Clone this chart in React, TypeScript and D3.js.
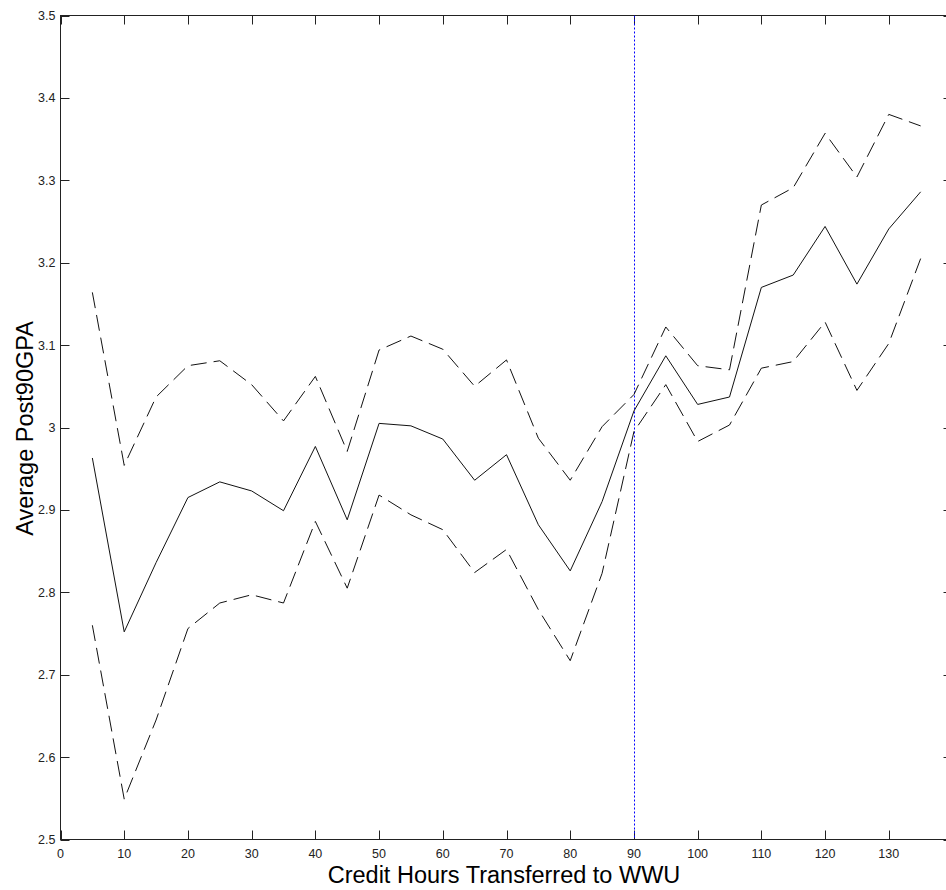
import React from "react";
import * as d3 from "d3";

const creditHours = [5, 10, 15, 20, 25, 30, 35, 40, 45, 50, 55, 60, 65, 70, 75, 80, 85, 90, 95, 100, 105, 110, 115, 120, 125, 130, 135];
const meanGPA = [2.963, 2.752, 2.836, 2.915, 2.934, 2.923, 2.899, 2.977, 2.888, 3.005, 3.002, 2.986, 2.936, 2.967, 2.882, 2.826, 2.910, 3.020, 3.087, 3.028, 3.037, 3.170, 3.185, 3.244, 3.174, 3.241, 3.286];
const upperGPA = [3.164, 2.954, 3.037, 3.075, 3.081, 3.052, 3.008, 3.062, 2.971, 3.094, 3.111, 3.095, 3.050, 3.082, 2.987, 2.936, 3.001, 3.040, 3.122, 3.075, 3.070, 3.270, 3.291, 3.357, 3.304, 3.380, 3.366];
const lowerGPA = [2.760, 2.549, 2.645, 2.756, 2.787, 2.797, 2.787, 2.886, 2.805, 2.918, 2.894, 2.876, 2.824, 2.852, 2.779, 2.717, 2.823, 2.995, 3.052, 2.983, 3.003, 3.072, 3.080, 3.128, 3.045, 3.102, 3.205];
const xTicks = [0, 10, 20, 30, 40, 50, 60, 70, 80, 90, 100, 110, 120, 130, 140];
const yTicks = [2.5, 2.6, 2.7, 2.8, 2.9, 3.0, 3.1, 3.2, 3.3, 3.4, 3.5];
const cutoff = 90;

const W = 946;
const H = 890;
const L = 60.5;
const R = 952.5;
const T = 15.5;
const B = 839.5;
const TICK = 9;
const FONT = "'Liberation Sans', Arial, Helvetica, sans-serif";

export default function App() {
  const x = d3.scaleLinear().domain([0, 140]).range([L, R]);
  const y = d3.scaleLinear().domain([2.5, 3.5]).range([B, T]);
  const mk = (vals: number[]) =>
    d3
      .line<number>()
      .x((_, i) => x(creditHours[i]))
      .y((v) => y(v))(vals) || "";

  return (
    <svg
      width={W}
      height={H}
      style={{ position: "absolute", left: 0, top: 0, background: "#fff" }}
      fontFamily={FONT}
    >
      <rect x={0} y={0} width={W} height={H} fill="#fff" />
      <defs>
        <clipPath id="plotclip">
          <rect x={L} y={T} width={R - L} height={B - T} />
        </clipPath>
      </defs>
      {/* frame */}
      <rect x={L} y={T} width={R - L} height={B - T} fill="none" stroke="#222" strokeWidth={1} />
      {/* x ticks */}
      {xTicks.map((t) => (
        <g key={"x" + t}>
          <line x1={Math.round(x(t)) + 0.5} x2={Math.round(x(t)) + 0.5} y1={B} y2={B - TICK} stroke="#222" />
          <line x1={Math.round(x(t)) + 0.5} x2={Math.round(x(t)) + 0.5} y1={T} y2={T + TICK} stroke="#222" />
          {t < 140 && (
            <text x={x(t)} y={B + 18} textAnchor="middle" fontSize={12.5} fill="#222">
              {t}
            </text>
          )}
        </g>
      ))}
      {/* y ticks */}
      {yTicks.map((t) => (
        <g key={"y" + t}>
          <line x1={L} x2={L + TICK} y1={Math.round(y(t)) + 0.5} y2={Math.round(y(t)) + 0.5} stroke="#222" />
          <line x1={R} x2={R - TICK} y1={Math.round(y(t)) + 0.5} y2={Math.round(y(t)) + 0.5} stroke="#222" />
          <text x={L - 5} y={y(t) + 4.5} textAnchor="end" fontSize={12.5} fill="#222">
            {d3.format("~g")(t)}
          </text>
        </g>
      ))}
      <g clipPath="url(#plotclip)">
        <line
          x1={Math.round(x(cutoff)) + 0.5}
          x2={Math.round(x(cutoff)) + 0.5}
          y1={T}
          y2={B}
          stroke="#0000ff"
          strokeWidth={1}
          strokeDasharray="2,2"
        />
        <path d={mk(upperGPA)} fill="none" stroke="#111" strokeWidth={1} strokeDasharray="16,7" />
        <path d={mk(lowerGPA)} fill="none" stroke="#111" strokeWidth={1} strokeDasharray="16,7" />
        <path d={mk(meanGPA)} fill="none" stroke="#111" strokeWidth={1} />
      </g>
      <text x={(325 + 683) / 2} y={883} textAnchor="middle" fontSize={23.5} fill="#000">
        Credit Hours Transferred to WWU
      </text>
      <text
        transform={`translate(33, ${(B + T) / 2 + 1}) rotate(-90)`}
        textAnchor="middle"
        fontSize={23.5}
        fill="#000"
      >
        Average Post90GPA
      </text>
    </svg>
  );
}
